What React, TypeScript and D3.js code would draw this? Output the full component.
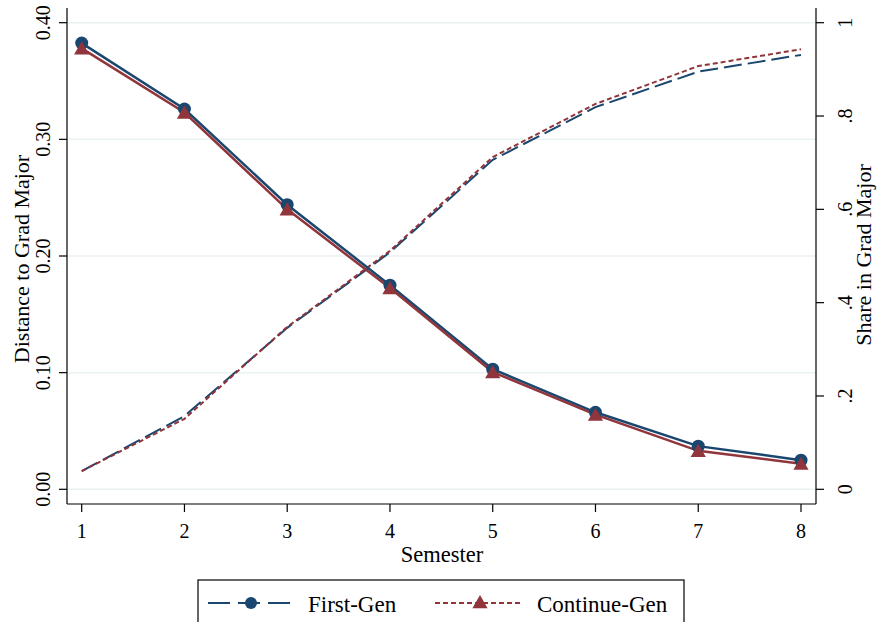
import React from 'react'
import * as d3 from 'd3'

const semesters = [1, 2, 3, 4, 5, 6, 7, 8]
const firstGenDist = [0.3825, 0.326, 0.244, 0.175, 0.103, 0.066, 0.037, 0.025]
const contGenDist = [0.378, 0.323, 0.24, 0.1725, 0.1005, 0.064, 0.033, 0.022]
const firstGenShare = [0.039, 0.157, 0.346, 0.508, 0.706, 0.819, 0.895, 0.931]
const contGenShare = [0.039, 0.151, 0.348, 0.511, 0.712, 0.826, 0.907, 0.943]
const leftTicks = [0, 0.1, 0.2, 0.3, 0.4]
const rightTicks = [0, 0.2, 0.4, 0.6, 0.8, 1]
const rightTickLabels = ['0', '.2', '.4', '.6', '.8', '1']

const BLUE = '#1a476f'
const RED = '#90353b'
const FONT = '"Liberation Serif", "Times New Roman", serif'

export default function App() {
  const W = 880, H = 622
  const left = 67, right = 816, top = 8, bottom = 504
  const x = d3.scaleLinear().domain([1, 8]).range([81.7, 801])
  const yL = d3.scaleLinear().domain([0, 0.4]).range([489.3, 22.7])
  const yR = d3.scaleLinear().domain([0, 1]).range([489.3, 22.7])

  const lineL = d3.line<number>().x((d, i) => x(semesters[i])).y(d => yL(d))
  const lineR = d3.line<number>().x((d, i) => x(semesters[i])).y(d => yR(d))

  // stata style triangle marker
  const tri = (cx: number, cy: number, s = 8) =>
    `M${cx},${cy - s} L${cx + s * 0.95},${cy + s * 0.65} L${cx - s * 0.95},${cy + s * 0.65} Z`

  return (
    <svg width={W} height={H} style={{ position: 'absolute', left: 0, top: 0, background: '#fff' }} fontFamily={FONT}>
      {/* grid */}
      {leftTicks.map(t => (
        <line key={'g' + t} x1={left} x2={right} y1={yL(t)} y2={yL(t)} stroke="#eaf2f3" strokeWidth={1.5} />
      ))}
      {/* axes */}
      <line x1={left} x2={left} y1={top} y2={bottom} stroke="#000" strokeWidth={1.2} />
      <line x1={right} x2={right} y1={top} y2={bottom} stroke="#000" strokeWidth={1.2} />
      <line x1={left} x2={right} y1={bottom} y2={bottom} stroke="#000" strokeWidth={1.2} />
      {leftTicks.map(t => (
        <g key={'l' + t}>
          <line x1={left - 8} x2={left} y1={yL(t)} y2={yL(t)} stroke="#000" strokeWidth={1.2} />
          <text transform={`translate(50,${yL(t)}) rotate(-90)`} textAnchor="middle" fontSize={20}>{t.toFixed(2)}</text>
        </g>
      ))}
      {rightTicks.map((t, i) => (
        <g key={'r' + t}>
          <line x1={right} x2={right + 8} y1={yR(t)} y2={yR(t)} stroke="#000" strokeWidth={1.2} />
          <text transform={`translate(852,${yR(t)}) rotate(-90)`} textAnchor="middle" fontSize={20}>{rightTickLabels[i]}</text>
        </g>
      ))}
      {semesters.map(s => (
        <g key={'x' + s}>
          <line x1={x(s)} x2={x(s)} y1={bottom} y2={bottom + 8} stroke="#000" strokeWidth={1.2} />
          <text x={x(s)} y={538} textAnchor="middle" fontSize={20}>{s}</text>
        </g>
      ))}
      <text transform="translate(29,259) rotate(-90)" textAnchor="middle" fontSize={22}>Distance to Grad Major</text>
      <text transform="translate(871,255) rotate(-90)" textAnchor="middle" fontSize={22}>Share in Grad Major</text>
      <text x={442} y={562} textAnchor="middle" fontSize={22.5}>Semester</text>

      {/* share lines */}
      <path d={lineR(firstGenShare) || ''} fill="none" stroke={BLUE} strokeWidth={2} strokeDasharray="18 6" />
      <path d={lineR(contGenShare) || ''} fill="none" stroke={RED} strokeWidth={2} strokeDasharray="5 3" />
      {/* distance lines */}
      <path d={lineL(firstGenDist) || ''} fill="none" stroke={BLUE} strokeWidth={2.5} />
      <path d={lineL(contGenDist) || ''} fill="none" stroke={RED} strokeWidth={2.5} />
      {firstGenDist.map((v, i) => (
        <circle key={'c' + i} cx={x(semesters[i])} cy={yL(v)} r={6.5} fill={BLUE} />
      ))}
      {contGenDist.map((v, i) => (
        <path key={'t' + i} d={tri(x(semesters[i]), yL(v) + 1)} fill={RED} />
      ))}

      {/* legend */}
      <rect x={198} y={580} width={486} height={50} fill="#fff" stroke="#000" strokeWidth={1.2} />
      <line x1={208} x2={296} y1={603} y2={603} stroke={BLUE} strokeWidth={2} strokeDasharray="22 8" />
      <circle cx={251} cy={603} r={6} fill={BLUE} />
      <text x={308} y={612} fontSize={23}>First-Gen</text>
      <line x1={435} x2={522} y1={603} y2={603} stroke={RED} strokeWidth={2} strokeDasharray="5 3" />
      <path d={tri(480, 603, 8)} fill={RED} />
      <text x={537} y={612} fontSize={23}>Continue-Gen</text>
    </svg>
  )
}
